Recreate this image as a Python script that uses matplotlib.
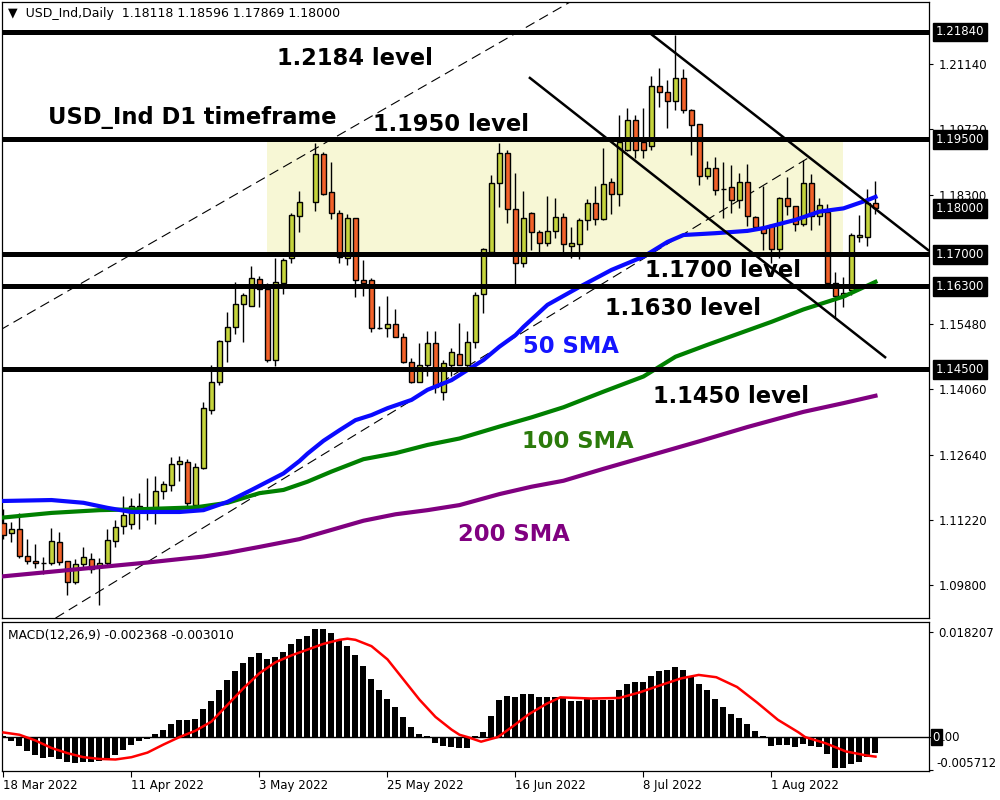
import numpy as np
import pandas as pd
import matplotlib
matplotlib.use('Agg')
import matplotlib.pyplot as plt

# daily bars from 18 Mar 2022 (bar 38 shows no candle on the chart)
dates = pd.bdate_range('2022-03-18', periods=110)
nan = float('nan')

opens = [1.1114, 1.1093, 1.1103, 1.1043, 1.1032, 1.1027, 1.1027, 1.1073, 1.1032, 1.0987,
         1.1025, 1.1036, 1.1020, 1.1029, 1.1076, 1.1108, 1.1112, 1.1153, 1.1140, 1.1148,
         1.1185, 1.1197, 1.1243, 1.1247, 1.1154, 1.1235, 1.1362, 1.1421, 1.1511, 1.1541,
         1.1592, 1.1588, 1.1646, 1.1624, 1.1470, 1.1638, 1.1692, 1.1783, nan, 1.1813,
         1.1918, 1.1835, 1.1789, 1.1693, 1.1778, 1.1643, 1.1643, 1.1539, 1.1539, 1.1548,
         1.1521, 1.1465, 1.1423, 1.1459, 1.1506, 1.1401, 1.1459, 1.1484, 1.1459, 1.1510,
         1.1613, 1.1706, 1.1855, 1.1920, 1.1798, 1.1682, 1.1791, 1.1748, 1.1724, 1.1751,
         1.1781, 1.1719, 1.1722, 1.1775, 1.1811, 1.1776, 1.1857, 1.1831, 1.1927, 1.1992,
         1.1945, 1.1936, 1.2066, 1.2053, 1.2034, 1.2083, 1.2015, 1.1983, 1.1870, 1.1887,
         1.1842, 1.1846, 1.1818, 1.1858, 1.1782, 1.1760, 1.1764, 1.1711, 1.1822, 1.1805,
         1.1767, 1.1855, 1.1783, 1.1793, 1.1638, 1.1609, 1.1622, 1.1737, 1.1737, 1.18118]
highs = [1.1145, 1.1118, 1.1137, 1.1080, 1.1069, 1.1040, 1.1104, 1.1095, 1.1033, 1.1037,
         1.1062, 1.1049, 1.1039, 1.1101, 1.1122, 1.1174, 1.1169, 1.1180, 1.1214, 1.1217,
         1.1206, 1.1258, 1.1261, 1.1254, 1.1246, 1.1378, 1.1459, 1.1513, 1.1574, 1.1640,
         1.1615, 1.1675, 1.1653, 1.1638, 1.1691, 1.1691, 1.1791, 1.1838, nan, 1.1942,
         1.1922, 1.1900, 1.1796, 1.1788, 1.1779, 1.1688, 1.1648, 1.1588, 1.1609, 1.1582,
         1.1528, 1.1474, 1.1506, 1.1532, 1.1532, 1.1470, 1.1495, 1.1550, 1.1532, 1.1617,
         1.1713, 1.1873, 1.1943, 1.1926, 1.1876, 1.1838, 1.1792, 1.1753, 1.1827, 1.1823,
         1.1789, 1.1759, 1.1778, 1.1820, 1.1849, 1.1931, 1.1866, 1.2003, 1.2018, 1.2003,
         1.2018, 1.2088, 1.2105, 1.2079, 1.2177, 1.2103, 1.2016, 1.1984, 1.1904, 1.1911,
         1.1902, 1.1894, 1.1876, 1.1896, 1.1783, 1.1849, 1.1766, 1.1824, 1.1868, 1.1806,
         1.1905, 1.1875, 1.1823, 1.1809, 1.1662, 1.1651, 1.1746, 1.1786, 1.1842, 1.18596]
lows = [1.1080, 1.1074, 1.1038, 1.1025, 1.1016, 1.1003, 1.1023, 1.1024, 1.0958, 1.0982,
        1.1020, 1.1007, 1.0936, 1.1024, 1.1063, 1.1091, 1.1101, 1.1101, 1.1122, 1.1112,
        1.1168, 1.1185, 1.1207, 1.1152, 1.1152, 1.1232, 1.1352, 1.1415, 1.1466, 1.1527,
        1.1508, 1.1588, 1.1585, 1.1465, 1.1457, 1.1613, 1.1680, 1.1748, nan, 1.1795,
        1.1829, 1.1777, 1.1680, 1.1677, 1.1608, 1.1610, 1.1530, 1.1538, 1.1521, 1.1519,
        1.1463, 1.1420, 1.1421, 1.1434, 1.1397, 1.1383, 1.1434, 1.1458, 1.1458, 1.1497,
        1.1572, 1.1705, 1.1802, 1.1769, 1.1635, 1.1673, 1.1709, 1.1704, 1.1718, 1.1735,
        1.1706, 1.1691, 1.1689, 1.1754, 1.1764, 1.1775, 1.1787, 1.1805, 1.1925, 1.1910,
        1.1909, 1.1927, 1.2021, 1.1974, 1.2014, 1.2008, 1.1916, 1.1851, 1.1865, 1.1829,
        1.1778, 1.1789, 1.1800, 1.1762, 1.1753, 1.1709, 1.1680, 1.1691, 1.1786, 1.1751,
        1.1762, 1.1753, 1.1764, 1.1633, 1.1564, 1.1586, 1.1611, 1.1727, 1.1717, 1.17869]
closes = [1.1089, 1.1103, 1.1043, 1.1032, 1.1027, 1.1028, 1.1075, 1.1031, 1.0987, 1.1026,
          1.1040, 1.1014, 1.1029, 1.1077, 1.1106, 1.1132, 1.1153, 1.1147, 1.1147, 1.1185,
          1.1201, 1.1243, 1.1250, 1.1158, 1.1236, 1.1365, 1.1421, 1.1511, 1.1542, 1.1592,
          1.1611, 1.1648, 1.1624, 1.1470, 1.1640, 1.1688, 1.1786, 1.1813, nan, 1.1918,
          1.1831, 1.1791, 1.1695, 1.1778, 1.1643, 1.1638, 1.1539, 1.1540, 1.1548, 1.1521,
          1.1465, 1.1423, 1.1459, 1.1506, 1.1412, 1.1464, 1.1487, 1.1459, 1.1510, 1.1611,
          1.1711, 1.1855, 1.1920, 1.1798, 1.1682, 1.1778, 1.1748, 1.1724, 1.1751, 1.1781,
          1.1722, 1.1724, 1.1775, 1.1811, 1.1776, 1.1852, 1.1831, 1.1945, 1.1992, 1.1927,
          1.1927, 1.2066, 1.2053, 1.2034, 1.2083, 1.2014, 1.1982, 1.1870, 1.1887, 1.1840,
          1.1842, 1.1818, 1.1858, 1.1784, 1.1760, 1.1746, 1.1711, 1.1822, 1.1805, 1.1767,
          1.1855, 1.1783, 1.1807, 1.1637, 1.1609, 1.1616, 1.1742, 1.1742, 1.1812, 1.18000]

# moving averages (bar index, price)
sma50_idx = [0, 6, 10, 13, 16, 22, 25, 28, 31, 33, 35, 37, 38, 40, 42, 44, 46, 48, 51, 53,
             56, 58, 60, 62, 64, 65, 68, 72, 76, 80, 83, 85, 89, 93, 95, 99, 102, 105, 108, 109]
sma50_val = [1.1163, 1.1165, 1.1159, 1.1148, 1.1139, 1.1139, 1.1143, 1.1161, 1.1187, 1.1205,
             1.1223, 1.1250, 1.1266, 1.1294, 1.1317, 1.1339, 1.1350, 1.1365, 1.1383, 1.1405,
             1.1426, 1.1448, 1.1470, 1.1499, 1.1524, 1.1542, 1.1590, 1.1629, 1.1666, 1.1695,
             1.1727, 1.1742, 1.1746, 1.1751, 1.1757, 1.1775, 1.1793, 1.1800, 1.1818, 1.1825]
sma100_idx = [0, 6, 12, 17, 24, 28, 32, 35, 38, 41, 45, 49, 53, 57, 62, 66, 70, 75,
              80, 84, 88, 92, 96, 100, 105, 109]
sma100_val = [1.1127, 1.1137, 1.1143, 1.1145, 1.1149, 1.1159, 1.1180, 1.1187, 1.1205, 1.1227,
              1.1254, 1.1267, 1.1285, 1.1299, 1.1325, 1.1345, 1.1367, 1.1401,
              1.1434, 1.1477, 1.1503, 1.1528, 1.1553, 1.1580, 1.1608, 1.1640]
sma200_idx = [0, 6, 12, 18, 25, 28, 32, 37, 41, 45, 49, 53, 57, 62, 66, 70, 75, 81, 87, 93,
              97, 100, 105, 109]
sma200_val = [1.0999, 1.1009, 1.1019, 1.1029, 1.1042, 1.1050, 1.1063, 1.1080, 1.1100, 1.1120,
              1.1134, 1.1143, 1.1154, 1.1178, 1.1194, 1.1207, 1.1233, 1.1263, 1.1293, 1.1324,
              1.1343, 1.1357, 1.1376, 1.1392]

# MACD(12,26,9) histogram and signal line
macd_hist = [0.0002, -0.0006, -0.0016, -0.0025, -0.0032, -0.0037, -0.0035, -0.0039, -0.0044, -0.0045,
             -0.0044, -0.0044, -0.0042, -0.0039, -0.0031, -0.0022, -0.0013, -0.0006, -0.0003, 0.0005,
             0.0013, 0.0023, 0.0030, 0.0029, 0.0031, 0.0048, 0.0063, 0.0081, 0.0099, 0.0114,
             0.0129, 0.0140, 0.0146, 0.0136, 0.0140, 0.0148, 0.0161, 0.0171, 0.0176, 0.0188,
             0.0187, 0.0181, 0.0169, 0.0159, 0.0142, 0.0123, 0.0101, 0.0081, 0.0066, 0.0052,
             0.0035, 0.0017, 0.0005, 0.0001, -0.0010, -0.0016, -0.0018, -0.0019, -0.0019, 0.0001,
             0.0009, 0.0036, 0.0064, 0.0072, 0.0069, 0.0075, 0.0075, 0.0070, 0.0070, 0.0070,
             0.0070, 0.0062, 0.0062, 0.0066, 0.0064, 0.0064, 0.0064, 0.0082, 0.0093, 0.0096,
             0.0096, 0.0107, 0.0114, 0.0117, 0.0122, 0.0117, 0.0107, 0.0093, 0.0081, 0.0066,
             0.0052, 0.0040, 0.0033, 0.0022, 0.0010, 0.0001, -0.0015, -0.0014, -0.0014, -0.0017,
             -0.0012, -0.0015, -0.0017, -0.0030, -0.0053, -0.0053, -0.0047, -0.0044, -0.0035, -0.0028]
signal_idx = [0, 2, 4, 6, 8, 10, 12, 14, 16, 18, 20, 22, 24, 26, 28, 30, 32, 34, 36, 38,
              40, 42, 43, 44, 46, 48, 50, 52, 54, 56, 57, 58, 59.7, 61.8, 63.6, 65.7, 67.9, 69.6,
              73.5, 77, 79.6, 82.1, 84.7, 86.9, 89.1, 91.7, 94.2, 96.8, 99.4, 100.2, 102.8,
              105.3, 107.9, 109]
signal_val = [0.0008, 0.0004, -0.0006, -0.0019, -0.0028, -0.0035, -0.0038, -0.0039, -0.0035, -0.0027,
              -0.0013, 0.0000, 0.0011, 0.0027, 0.0056, 0.0085, 0.0111, 0.0130, 0.0142, 0.0152,
              0.0162, 0.0169, 0.0171, 0.0169, 0.0158, 0.0135, 0.0100, 0.0065, 0.0035, 0.0013,
              0.0004, 0.0000, -0.0008, 0.0000, 0.0018, 0.0040, 0.0058, 0.0069,
              0.0067, 0.0068, 0.0078, 0.0090, 0.0102, 0.0108, 0.0104, 0.0087, 0.0060, 0.0030,
              0.0008, 0.0000, -0.0011, -0.0025, -0.0032, -0.0034]

levels = [1.2184, 1.1950, 1.1700, 1.1630, 1.1450]
axis_ticks = [1.21140, 1.19720, 1.18300, 1.15480, 1.14060, 1.12640, 1.11220, 1.09800]
marked_ticks = [1.21840, 1.19500, 1.18000, 1.17000, 1.16300, 1.14500]
date_ticks = ['18 Mar 2022', '11 Apr 2022', '3 May 2022', '25 May 2022',
              '16 Jun 2022', '8 Jul 2022', '1 Aug 2022']

bull_col = '#c5d43c'
bear_col = '#f2622a'

fig = plt.figure(figsize=(10, 8), dpi=100)
ax = fig.add_axes([0.002, 1 - 618 / 800, 0.927, 616 / 800])
axm = fig.add_axes([0.002, 1 - 771 / 800, 0.927, 149 / 800])

x = np.arange(len(dates))
o = np.array(opens)
h = np.array(highs)
l = np.array(lows)
c = np.array(closes)
ok = ~np.isnan(o)

# consolidation box between 1.1700 and 1.1950
ax.fill_between([32.9, 104.9], 1.1700, 1.1950, color='#f7f7d5', lw=0, zorder=0)

# dashed trend lines
ax.plot([6.5, 100.8], [1.0908, 1.1912], color='black', lw=0.8, ls=(0, (9, 5)), zorder=1)
ax.plot([-0.44, 70.8], [1.1535, 1.2249], color='black', lw=0.8, ls=(0, (9, 5)), zorder=1)

# candles
up = ok & (c >= o)
dn = ok & (c < o)
ax.vlines(x[ok], l[ok], h[ok], color='black', lw=1, zorder=2)
ax.bar(x[up], c[up] - o[up], bottom=o[up], width=0.65, color=bull_col,
       edgecolor='black', lw=1, zorder=3)
ax.bar(x[dn], o[dn] - c[dn], bottom=c[dn], width=0.65, color=bear_col,
       edgecolor='black', lw=1, zorder=3)

# moving averages
ax.plot(sma200_idx, sma200_val, color='#800080', lw=3, zorder=4)
ax.plot(sma100_idx, sma100_val, color='#008000', lw=3, zorder=4)
ax.plot(sma50_idx, sma50_val, color='#0a0aff', lw=3, zorder=4)

# channel
ax.plot([81.06, 115.6], [1.2178, 1.1709], color='black', lw=1.8, zorder=5)
ax.plot([65.8, 110.2], [1.2084, 1.1476], color='black', lw=1.8, zorder=5)

for lv in levels:
    ax.axhline(lv, color='black', lw=3.6, zorder=6)

ax.set_xlim(-0.1875, 115.69)
ax.set_ylim(1.09082, 1.22493)
ax.set_xticks([])
ax.yaxis.tick_right()
ax.set_yticks(axis_ticks)
ax.set_yticklabels(['%.5f' % t for t in axis_ticks])
ax.tick_params(axis='y', length=3, width=0.8, pad=4, labelsize=8.5, colors='black')
for sp in ax.spines.values():
    sp.set_linewidth(0.9)
for t in marked_ticks:
    ax.text(1.0075, t, '%.5f' % t, transform=ax.get_yaxis_transform(), ha='left', va='center',
            fontsize=8.5, color='white', clip_on=False, zorder=10,
            bbox=dict(boxstyle='square,pad=0.25', facecolor='black', edgecolor='black'))

# MACD panel
axm.bar(x, macd_hist, width=0.75, color='black', zorder=2)
axm.plot(signal_idx, signal_val, color='#ff0000', lw=1.8, zorder=3)
axm.axhline(0, color='black', lw=1, zorder=1)
axm.set_xlim(-0.1875, 115.69)
axm.set_ylim(-0.0059, 0.0200)
axm.yaxis.tick_right()
axm.set_yticks([0.018207, 0.0, -0.005712])
axm.set_yticklabels(['0.018207', '', ''])
axm.tick_params(axis='y', length=3, width=0.8, pad=4, labelsize=8.5)
axm.text(1.0075, -0.005712, '-0.005712', transform=axm.get_yaxis_transform(),
         ha='left', va='bottom', fontsize=8.5, clip_on=False)
axm.text(1.0040, 0.0, '0', transform=axm.get_yaxis_transform(), ha='left', va='center',
         fontsize=8.5, color='white', clip_on=False, zorder=10,
         bbox=dict(boxstyle='square,pad=0.15', facecolor='black', edgecolor='black'))
axm.text(1.0140, 0.0, '.00', transform=axm.get_yaxis_transform(), ha='left', va='center',
         fontsize=8.5, color='black', clip_on=False, zorder=11)
for sp in axm.spines.values():
    sp.set_linewidth(0.9)

lab = dates.strftime('%-d %b %Y')
pos = [i for i in x if lab[i] in date_ticks]
axm.set_xticks(pos)
axm.set_xticklabels([lab[i] for i in pos], ha='left', fontsize=8.5)
axm.tick_params(axis='x', length=4, width=0.8, pad=2)

fig.text(0.008, 1 - 13 / 800, '\u25bc  USD_Ind,Daily  1.18118 1.18596 1.17869 1.18000',
         fontsize=9, va='center', ha='left')
fig.text(0.008, 1 - 635 / 800, 'MACD(12,26,9) -0.002368 -0.003010',
         fontsize=8.8, va='center', ha='left')

# annotations (left edge in px, baseline in px)
notes = [('1.2184 level', 277, 65, 'black'),
         ('USD_Ind D1 timeframe', 48, 124, 'black'),
         ('1.1950 level', 373, 131, 'black'),
         ('1.1700 level', 645, 277, 'black'),
         ('1.1630 level', 605, 315, 'black'),
         ('50 SMA', 523, 353, '#1414ff'),
         ('1.1450 level', 653, 403, 'black'),
         ('100 SMA', 522, 448, '#2b7a0b'),
         ('200 SMA', 458, 541, '#800080')]
for txt, px, py, col in notes:
    fig.text(px / 1000, 1 - py / 800, txt, fontsize=16.3, fontweight='bold', color=col,
             ha='left', va='baseline', zorder=20)

fig.savefig('out.png', dpi=100)
